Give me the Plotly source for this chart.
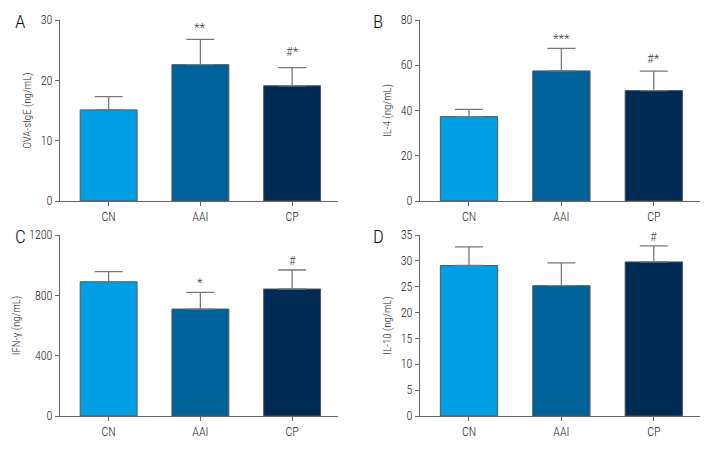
import plotly.graph_objects as go

groups = ["CN", "AAI", "CP"]
colors = ["#009FE3", "#00629B", "#002B55"]

ova_mean = [15.1, 22.6, 19.1]
ova_sd = [2.2, 4.2, 3.0]
il4_mean = [37.3, 57.5, 48.8]
il4_sd = [3.2, 10.0, 8.6]
ifn_mean = [890, 709, 842]
ifn_sd = [67, 111, 126]
il10_mean = [29.1, 25.2, 29.8]
il10_sd = [3.6, 4.4, 3.1]

ova_sig = ["", "**", "#*"]
il4_sig = ["", "***", "#*"]
ifn_sig = ["", "*", "#"]
il10_sig = ["", "", "#"]

W, H = 720, 456
OFF = 8  # page body margin


def px(x):
    return (x - OFF) / W


def py(y):
    return 1 - (y - OFF) / H


panels = [
    dict(letter="A", mean=ova_mean, sd=ova_sd, sig=ova_sig, title="OVA-sIgE (ng/mL)",
         yr=[0, 30], dt=10, xd=[px(60), px(338)], yd=[py(201), py(20)], sigy=[0, 28.7, 24.7]),
    dict(letter="B", mean=il4_mean, sd=il4_sd, sig=il4_sig, title="IL-4 (ng/mL)",
         yr=[0, 80], dt=20, xd=[px(420), px(700)], yd=[py(201), py(20)], sigy=[0, 71.6, 62.8]),
    dict(letter="C", mean=ifn_mean, sd=ifn_sd, sig=ifn_sig, title="IFN-γ (ng/mL)",
         yr=[0, 1200], dt=400, xd=[px(60), px(338)], yd=[py(416), py(235)], sigy=[0, 882, 1034]),
    dict(letter="D", mean=il10_mean, sd=il10_sd, sig=il10_sig, title="IL-10 (ng/mL)",
         yr=[0, 35], dt=5, xd=[px(420), px(700)], yd=[py(416), py(235)], sigy=[0, 0, 34.8]),
]

FONT = "Roboto Condensed, Liberation Sans Narrow, sans-serif"
AX = "#666666"
TXT = "#222222"

fig = go.Figure()
layout = dict(
    width=W, height=H, margin=dict(l=0, r=0, t=0, b=0, pad=0, autoexpand=False),
    plot_bgcolor="white", paper_bgcolor="white", showlegend=False,
    font=dict(family=FONT, size=12, color=TXT, weight=300),
    annotations=[],
)
letter_pos = {"A": (13, 22), "B": (371, 22), "C": (13, 236), "D": (371, 236)}

for i, p in enumerate(panels):
    n = i + 1
    xa = "x" if n == 1 else f"x{n}"
    ya = "y" if n == 1 else f"y{n}"
    fig.add_trace(go.Bar(
        x=groups, y=p["mean"], xaxis=xa, yaxis=ya, width=0.62,
        marker=dict(color=colors, line=dict(color="#555555", width=1)),
        error_y=dict(type="data", array=p["sd"], arrayminus=[0, 0, 0], symmetric=False,
                     color="#777777", thickness=1.3, width=14),
    ))
    xk = "xaxis" if n == 1 else f"xaxis{n}"
    yk = "yaxis" if n == 1 else f"yaxis{n}"
    layout[xk] = dict(domain=p["xd"], anchor=ya, range=[-0.53, 2.5], showline=True, automargin=False,
                      linecolor=AX, linewidth=1.3, ticks="outside", ticklen=4, tickcolor=AX,
                      tickfont=dict(size=12, family=FONT, color=TXT, weight=300),
                      showgrid=False, zeroline=False)
    layout[yk] = dict(domain=p["yd"], anchor=xa, range=p["yr"], dtick=p["dt"], showline=True,
                      automargin=False,
                      linecolor=AX, linewidth=1.3, ticks="outside", ticklen=4, tickcolor=AX,
                      tickfont=dict(size=12, family=FONT, color=TXT, weight=300),
                      showgrid=False, zeroline=False,
                      title=dict(text=p["title"], font=dict(size=11, family=FONT, color=TXT, weight=300),
                                 standoff=6))
    for g, s, sy in zip(groups, p["sig"], p["sigy"]):
        if s:
            layout["annotations"].append(dict(x=g, y=sy, xref=xa, yref=ya, text=s, showarrow=False,
                                              font=dict(size=13, family=FONT, color="#444", weight=300)))
    lx, ly = letter_pos[p["letter"]]
    layout["annotations"].append(dict(x=px(lx), y=py(ly), xref="paper", yref="paper",
                                      text=p["letter"], showarrow=False, xanchor="left", yanchor="middle",
                                      font=dict(size=19, family=FONT, color="#111", weight=300)))

fig.update_layout(**layout)
fig.write_html("out.html")
